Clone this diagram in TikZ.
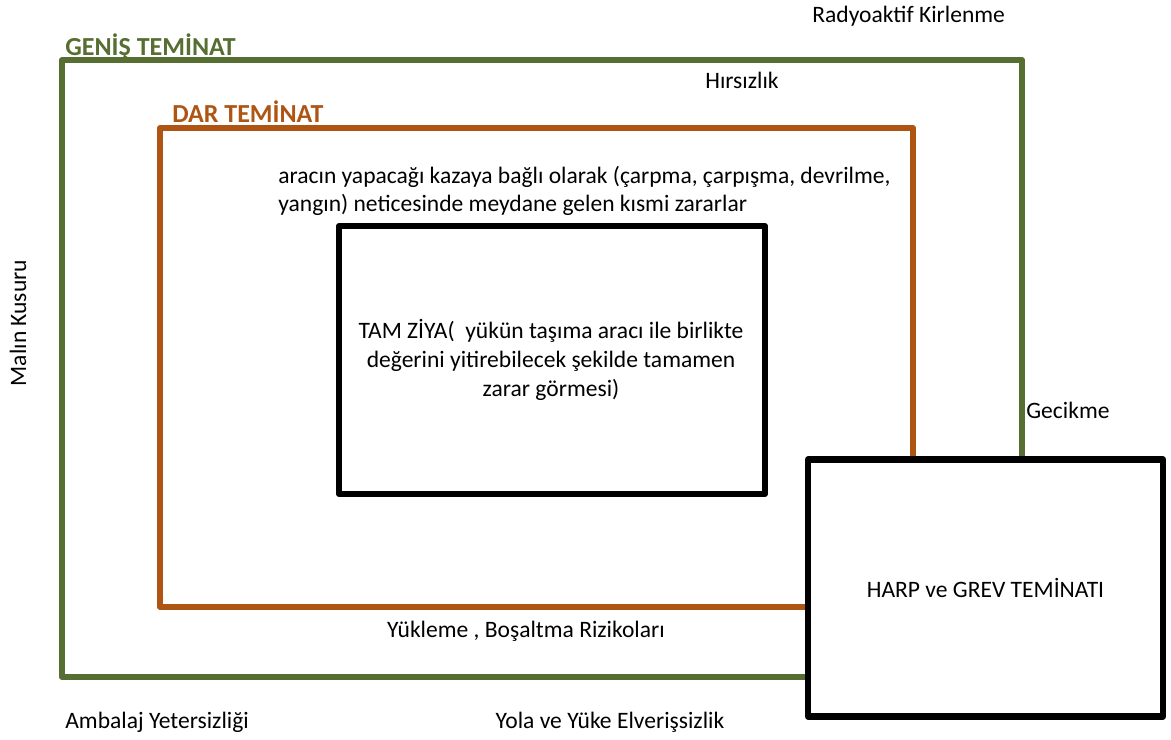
\documentclass[tikz,border=0pt]{standalone}
\usepackage{fontspec}
\setmainfont{Carlito}
\usetikzlibrary{positioning}

\definecolor{genisgreen}{RGB}{86,110,50}
\definecolor{darorange}{RGB}{175,85,20}

\tikzset{
    lbl/.style={inner sep=0pt, font=\fontsize{13.4}{15.3}\selectfont},
    head/.style={lbl, font=\fontsize{14.8}{17}\selectfont\bfseries},
    frame/.style={line width=3.5pt, line join=round}
}

\begin{document}
\begin{tikzpicture}[x=0.02cm,y=-0.02cm]
\useasboundingbox (0,0) rectangle (1171,740);
% outer and inner cover
\draw[frame, genisgreen] (62,60) rectangle (1022,677);
\draw[frame, darorange] (160,128) rectangle (913,607);
\draw[frame, black] (339,226) rectangle (765,494);
\node (harp) [frame, draw, fill=white, minimum width=355*0.02cm, minimum height=257*0.02cm, inner sep=0pt] at (985.5,588) {};
\node [lbl] at (harp) {HARP ve GREV TEMİNATI};

\node (genis) [head, text=genisgreen, anchor=west] at (65,47) {GENİŞ TEMİNAT};
\node (dar) [head, text=darorange, anchor=west] at (172,112) {DAR TEMİNAT};
\node (kirlen) [lbl, anchor=west] at (812,16) {Radyoaktif Kirlenme};
\node (hirsiz) [lbl, anchor=west] at (705,80) {Hırsızlık};
\node (kaza) [lbl, anchor=north west, align=left] at (278,166)
    {aracın yapacağı kazaya bağlı olarak (çarpma, çarpışma, devrilme,\\[0.6pt]
     yangın) neticesinde meydane gelen kısmi zararlar};
\node (tam) [lbl, align=center] at (551,360)
    {TAM ZİYA(\ \ yükün taşıma aracı ile birlikte\\[1.4pt]
     değerini yitirebilecek şekilde tamamen\\[1.4pt] zarar görmesi)};
\node (kusur) [lbl, rotate=90] at (18,323) {Malın Kusuru};
\node (gecik) [lbl, anchor=west] at (1026,410) {Gecikme};
\node (yukle) [lbl] at (526,631) {Yükleme , Boşaltma Rizikoları};
\node (ambalaj) [lbl, anchor=west] at (65,722) {Ambalaj Yetersizliği};
\node (yola) [lbl] at (610,722) {Yola ve Yüke Elverişsizlik};
\end{tikzpicture}
\end{document}
